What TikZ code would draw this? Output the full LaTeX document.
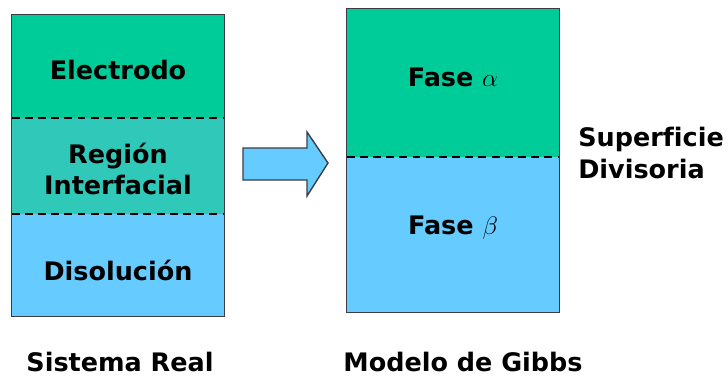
\documentclass[tikz,border=0pt]{standalone}
\usepackage{fontspec}
\setmainfont{DejaVu Sans}[Ligatures={TeX,NoCommon}]
\usetikzlibrary{positioning}
\definecolor{electrodo}{RGB}{0,204,153}
\definecolor{disolucion}{RGB}{102,204,255}
\definecolor{interfase}{RGB}{48,200,184}
\definecolor{borde}{RGB}{60,60,70}

\begin{document}
\begin{tikzpicture}[x=0.02cm,y=-0.02cm,
    font=\fontsize{14.5}{18}\selectfont\bfseries,
    zona/.style={inner sep=0, minimum width=4.24cm, align=center},
    corte/.style={line width=1.1pt, dash pattern=on 4.5pt off 3pt}]
  \useasboundingbox (0,0) rectangle (728,380);
  % sistema real
  \node[zona, fill=electrodo, minimum height=2.06cm](electrodo) at (118,66.5) {};
  \node[zona, fill=interfase, minimum height=1.92cm](interfase) at (118,166) {};
  \node[zona, fill=disolucion, minimum height=2.04cm](disolucion) at (118,265) {};
  \node(electrodotxt) at ([yshift=-0.06cm]electrodo) {Electrodo};
  \node[align=center](interfasetxt) at ([yshift=-0.06cm]interfase) {Región\\Interfacial};
  \node(disoluciontxt) at ([yshift=-0.1cm]disolucion) {Disolución};
  \draw[borde, thin] (electrodo.north west) rectangle (disolucion.south east);
  \draw[corte] (interfase.north west) -- (interfase.north east);
  \draw[corte] (interfase.south west) -- (interfase.south east);
  % flecha
  \draw[borde, fill=disolucion, line width=0.8pt] (243,148) -- (307,148) -- (307,132) -- (328,163)
       -- (307,196) -- (307,180) -- (243,180) -- cycle;
  % modelo de Gibbs
  \node[zona, fill=electrodo, minimum height=2.96cm](alfa) at (453,83) {};
  \node[zona, fill=disolucion, minimum height=3.10cm](beta) at (453,234.5) {};
  \node(alfatxt) at ([yshift=0.12cm]alfa) {Fase $\alpha$};
  \node(betatxt) at ([yshift=0.14cm]beta) {Fase $\beta$};
  \draw[borde, thin] (alfa.north west) rectangle (beta.south east);
  \draw[corte] (beta.north west) -- (beta.north east);
  \node[anchor=west, align=left, inner sep=0](superficie) at (578,153) {Superficie\\Divisoria};
  % rotulos
  \node(real) at (120,362) {Sistema Real};
  \node(gibbs) at (463,362) {Modelo de Gibbs};
\end{tikzpicture}
\end{document}
